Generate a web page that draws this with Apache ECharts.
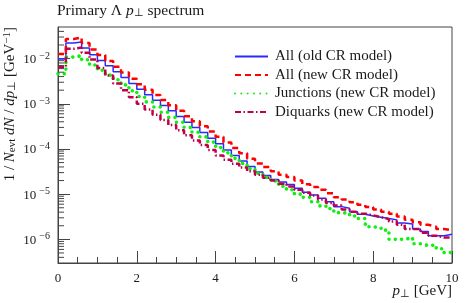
<!DOCTYPE html>
<html>
<head>
<meta charset="utf-8">
<script src="https://cdn.jsdelivr.net/npm/echarts@6/dist/echarts.min.js"></script>
<style>
html,body{margin:0;padding:0;background:#fff;}
#chart{width:467px;height:303px;}
</style>
</head>
<body>
<div id="chart"></div>
<script>
// Bin edges of p_T [GeV]
const binEdges = [0,0.2,0.4,0.6,0.8,1.0,1.2,1.4,1.6,1.8,2.0,2.2,2.4,2.6,2.8,3.0,3.2,3.4,3.6,3.8,
  4.0,4.2,4.4,4.6,4.8,5.0,5.2,5.4,5.6,5.8,6.0,6.2,6.4,6.6,6.8,7.0,7.2,7.4,7.6,7.8,
  8.0,8.2,8.4,8.6,8.8,9.0,9.2,9.4,9.6,9.8,10.0];

const allOldCR = [0.0098,0.022,0.0232,0.0172,0.0122,0.0091,0.0069,0.0051,0.0038,0.0028,
  0.0021,0.00158,0.0012,0.00092,0.0007,0.00052,0.00039,0.0003,0.000232,0.000173,
  0.00013,0.0000955,0.0000718,0.0000545,0.0000408,0.000031,0.000026,0.000021,0.0000185,0.0000163,
  0.0000135,0.000011,0.0000096,0.0000081,0.0000068,0.0000053,0.0000049,0.0000041,0.0000036,0.0000033,
  0.0000031,0.0000029,0.0000027,0.0000023,0.0000022,0.0000017,0.0000015,0.0000012,0.0000012,0.0000013];

const allNewCR = [0.0126,0.027,0.0295,0.0221,0.0158,0.012,0.0089,0.0066,0.0049,0.0036,
  0.0027,0.00205,0.00157,0.00121,0.00093,0.0007,0.00053,0.00041,0.00032,0.000245,
  0.000186,0.000139,0.000105,0.00008,0.000061,0.000048,0.00004,0.000032,0.000027,0.000024,
  0.00002,0.0000165,0.0000145,0.0000125,0.0000105,0.0000085,0.0000076,0.0000066,0.0000058,0.0000052,
  0.0000046,0.0000041,0.0000037,0.0000032,0.0000027,0.0000024,0.0000021,0.0000019,0.0000017,0.0000016];

const junctionsNewCR = [0.0046,0.0108,0.0116,0.0094,0.0072,0.0055,0.0043,0.0034,0.00262,0.00195,
  0.00145,0.0011,0.00085,0.00065,0.0005,0.00039,0.0003,0.000235,0.000185,0.000142,
  0.000108,0.000082,0.000062,0.000048,0.000037,0.000029,0.0000235,0.0000195,0.000015,0.0000125,
  0.00001,0.0000085,0.0000068,0.0000055,0.0000048,0.0000039,0.0000038,0.0000033,0.0000029,0.0000019,
  0.0000018,0.0000016,0.000001,0.000001,0.0000011,0.0000008,0.00000073,0.00000075,0.00000062,0.00000051];

const diquarksNewCR = [0.0065,0.0165,0.0175,0.0135,0.0095,0.0062,0.0042,0.0028,0.002,0.0014,
  0.001,0.00075,0.00057,0.00044,0.00034,0.00026,0.0002,0.000155,0.000122,0.000095,
  0.000072,0.000058,0.000047,0.000039,0.000032,0.000027,0.000023,0.00002,0.000017,0.0000148,
  0.0000125,0.0000108,0.0000094,0.0000076,0.0000064,0.0000056,0.0000046,0.0000041,0.0000037,0.0000034,
  0.0000031,0.0000028,0.0000025,0.0000021,0.0000017,0.0000017,0.0000014,0.0000012,0.0000011,0.0000011];

const seriesNames = ['All (old CR model)','All (new CR model)','Junctions (new CR model)','Diquarks (new CR model)'];
const xTickLabels = ['0','2','4','6','8','10'];
const yMinorTickValues = [
  4e-7,5e-7,6e-7,7e-7,8e-7,9e-7,
  2e-6,3e-6,4e-6,5e-6,6e-6,7e-6,8e-6,9e-6,
  2e-5,3e-5,4e-5,5e-5,6e-5,7e-5,8e-5,9e-5,
  2e-4,3e-4,4e-4,5e-4,6e-4,7e-4,8e-4,9e-4,
  2e-3,3e-3,4e-3,5e-3,6e-3,7e-3,8e-3,9e-3,
  2e-2,3e-2,4e-2];

function histData(vals){
  const d = vals.map((v,i)=>[binEdges[i], v]);
  d.push([binEdges[binEdges.length-1], vals[vals.length-1]]);
  return d;
}

const FONT = 'Liberation Serif';
const AXC = '#444';
const TXT = '#1a1a1a';

const chart = echarts.init(document.getElementById('chart'), null, {renderer:'canvas'});

function yFmt(v){
  const e = Math.round(Math.log10(v));
  if (Math.abs(Math.log10(v) - e) > 1e-6) return '';
  return '{b|10}{s|' + String(e).replace('-', '−') + '}';
}

chart.setOption({
  backgroundColor:'#fff',
  animation:false,
  grid:{left:58, right:15, top:27, bottom:40, show:true, borderColor:AXC, borderWidth:1, backgroundColor:'transparent'},
  xAxis:{
    type:'value', min:0, max:10, interval:2,
    axisLine:{show:true, lineStyle:{color:AXC, width:1}},
    axisTick:{show:true, inside:true, length:12, lineStyle:{color:AXC}},
    minorTick:{show:true, splitNumber:4, length:6, lineStyle:{color:AXC}},
    splitLine:{show:false},
    axisLabel:{color:TXT, fontFamily:FONT, fontSize:13, margin:9,
      formatter:(v)=>{ const i = Math.round(v/2); return xTickLabels[i] !== undefined ? xTickLabels[i] : ''; }}
  },
  yAxis:{
    type:'log', logBase:10, min:3e-7, max:0.05,
    axisLine:{show:true, lineStyle:{color:AXC, width:1}},
    axisTick:{show:true, inside:true, length:12, lineStyle:{color:AXC}},
    splitLine:{show:false},
    axisLabel:{showMinLabel:false, showMaxLabel:false, margin:8, formatter:yFmt,
      rich:{
        b:{fontFamily:FONT, fontSize:13, color:TXT, verticalAlign:'bottom', lineHeight:15, padding:[2,0,0,0]},
        s:{fontFamily:FONT, fontSize:10, color:TXT, verticalAlign:'top', lineHeight:15, padding:[0,0,6,3]}
      }}
  },
  legend:{
    data:seriesNames, orient:'vertical', left:229, top:44, itemGap:3.5,
    itemWidth:33, itemHeight:14,
    itemStyle:{opacity:0},
    textStyle:{fontFamily:FONT, fontSize:15, color:TXT, padding:[0,0,0,2]},
    selectedMode:false
  },
  graphic:[
    {type:'text', left:57, top:3, style:{
      text:'Primary Λ {i|p}{sub|⊥} spectrum', fontFamily:FONT, fontSize:15.5, fill:TXT,
      rich:{i:{fontFamily:FONT, fontStyle:'italic', fontSize:15.5}, sub:{fontFamily:FONT, fontSize:11, verticalAlign:'bottom', padding:[5,0,0,0]}}
    }},
    {type:'text', right:15, top:284, style:{
      text:'{i|p}{sub|⊥} [GeV]', fontFamily:FONT, fontSize:15, fill:TXT,
      rich:{i:{fontFamily:FONT, fontStyle:'italic', fontSize:15}, sub:{fontFamily:FONT, fontSize:11, verticalAlign:'bottom', padding:[5,0,0,0]}}
    }},
    {type:'text', x:2, y:27, rotation:Math.PI/2, style:{
      text:'1 / {i|N}{sub|evt} {i|dN} / {i|dp}{sub|⊥} [GeV{sup|−1}]', fontFamily:FONT, fontSize:15, fill:TXT,
      align:'right', verticalAlign:'top',
      rich:{i:{fontFamily:FONT, fontStyle:'italic', fontSize:15},
        sub:{fontFamily:FONT, fontSize:11, verticalAlign:'bottom', padding:[5,0,0,0]},
        sup:{fontFamily:FONT, fontSize:11, verticalAlign:'top', padding:[0,0,5,0]}}
    }}
  ],
  series:[
    {name:seriesNames[0], type:'line', step:'end', symbol:'none', data:histData(allOldCR),
      lineStyle:{color:'#2a2aff', width:1.5}, itemStyle:{color:'#2a2aff'}},
    {name:seriesNames[1], type:'line', step:'end', symbol:'none', data:histData(allNewCR),
      lineStyle:{color:'#ff0000', width:2.5, type:[6,4]}, itemStyle:{color:'#ff0000'}},
    {name:seriesNames[2], type:'line', step:'end', symbol:'none', data:histData(junctionsNewCR),
      lineStyle:{color:'#11ee11', width:3.6, type:[0.01,6.3], cap:'round'}, itemStyle:{color:'#11ee11'}},
    {name:seriesNames[3], type:'line', step:'end', symbol:'none', data:histData(diquarksNewCR),
      lineStyle:{color:'#c0004a', width:2.5, type:[6,2.5,1.5,2.5]}, itemStyle:{color:'#c0004a'}},
    {name:'yMinorTicks', type:'custom', silent:true, z:5,
      data:yMinorTickValues.map(v=>[0,v]), encode:{x:0,y:1},
      renderItem:(params, api)=>{
        const p = api.coord([0, api.value(1)]);
        return {type:'line', shape:{x1:p[0], y1:p[1], x2:p[0]+6, y2:p[1]}, style:{stroke:AXC, lineWidth:1}};
      }}
  ]
});
</script>
</body>
</html>
